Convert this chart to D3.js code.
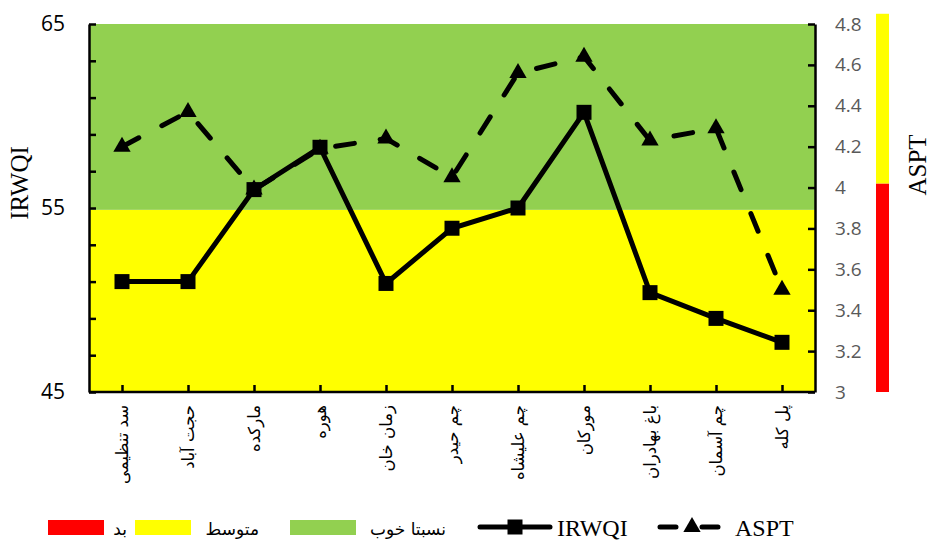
<!DOCTYPE html>
<html>
<head>
<meta charset="utf-8">
<script src="https://cdn.jsdelivr.net/npm/d3@7"></script>
<style>
  body { margin: 0; background: #fff; }
</style>
</head>
<body>
<div id="chart"></div>
<script>
var w = 934;
var h = 541;

// data
var stations = ["سد تنظیمی", "حجت آباد", "مارکده", "هوره", "زمان خان", "چم حیدر",
                "چم علیشاه", "مورکان", "باغ بهادران", "چم آسمان", "پل کله"];
var irwqi = [51.0, 51.0, 56.0, 58.3, 50.9, 53.9, 55.0, 60.2, 50.4, 49.0, 47.7];
var aspt = [4.20, 4.37, 3.99, 4.19, 4.24, 4.05, 4.56, 4.64, 4.23, 4.29, 3.50];
var leftTicks = [45, 47, 49, 51, 53, 55, 57, 59, 61, 63, 65];
var leftLabels = [45, 55, 65];
var rightTicks = [3, 3.2, 3.4, 3.6, 3.8, 4, 4.2, 4.4, 4.6, 4.8];
// background classes of IRWQI and ASPT
var irwqiBands = [{from: 45, to: 54.9, color: "#ffff00"}, {from: 54.9, to: 65, color: "#92d050"}];
var asptBands = [{from: 3, to: 4.02, color: "#ff0000"}, {from: 4.02, to: 4.85, color: "#ffff00"}];
var legendBoxes = [{label: "بد", color: "#ff0000"}, {label: "متوسط", color: "#ffff00"},
                   {label: "نسبتا خوب", color: "#92d050"}];

var pLeft = 89, pRight = 815, pTop = 24, pBottom = 392;

var svg = d3.select("#chart")
    .append("svg")
    .attr("width", w)
    .attr("height", h);

var x = d3.scalePoint().domain(stations).range([pLeft, pRight]).padding(0.5);
var yL = d3.scaleLinear().domain([45, 65]).range([pBottom, pTop]);
var yR = d3.scaleLinear().domain([3, 4.8]).range([pBottom, pTop]);

// coloured bands behind the lines
svg.append("g").selectAll("rect")
    .data(irwqiBands)
    .enter().append("rect")
    .attr("x", pLeft)
    .attr("width", pRight - pLeft)
    .attr("y", function(d) { return yL(d.to); })
    .attr("height", function(d) { return yL(d.from) - yL(d.to); })
    .attr("fill", function(d) { return d.color; });

// ASPT class bar at the right
svg.append("g").selectAll("rect")
    .data(asptBands)
    .enter().append("rect")
    .attr("x", 876)
    .attr("width", 13)
    .attr("y", function(d) { return yR(d.to); })
    .attr("height", function(d) { return yR(d.from) - yR(d.to); })
    .attr("fill", function(d) { return d.color; });

// axes
var gl = svg.append("g")
    .attr("transform", "translate(" + pLeft + ",0)")
    .call(d3.axisLeft(yL).tickValues(leftTicks).tickSizeInner(-7).tickSizeOuter(0).tickPadding(24)
        .tickFormat(function(d) { return leftLabels.indexOf(d) >= 0 ? d : ""; }));
gl.selectAll("text").style("font-family", "'Open Sans', sans-serif").style("font-size", "21px").attr("fill", "#000");

var gr = svg.append("g")
    .attr("transform", "translate(" + pRight + ",0)")
    .call(d3.axisRight(yR).tickValues(rightTicks).tickSizeInner(-7).tickSizeOuter(0).tickPadding(20)
        .tickFormat(function(d) { return d3.format("")(+d.toFixed(1)); }));
gr.selectAll("text").style("font-family", "'Open Sans', sans-serif").style("font-size", "19px").attr("fill", "#595959");

var gb = svg.append("g")
    .attr("transform", "translate(0," + pBottom + ")")
    .call(d3.axisBottom(x).tickSizeInner(-7).tickSizeOuter(0).tickFormat(""));
gb.select(".domain").attr("d", "M" + pLeft + ",0H" + pRight);

svg.selectAll(".domain, .tick line").attr("stroke", "#000").attr("stroke-width", 2.5);

// rotated station names
svg.append("g").selectAll("text")
    .data(stations)
    .enter().append("text")
    .attr("transform", function(d) { return "translate(" + x(d) + ",405) rotate(-90)"; })
    .attr("dy", "0.35em")
    .attr("text-anchor", "end")
    .style("font-family", "'DejaVu Sans', sans-serif")
    .style("font-size", "16.5px")
    .text(function(d) { return d; });

// axis titles
svg.append("text")
    .attr("transform", "translate(28,183) rotate(-90)")
    .attr("text-anchor", "middle")
    .style("font-family", "'Liberation Serif', serif")
    .style("font-size", "25px")
    .text("IRWQI");

svg.append("text")
    .attr("transform", "translate(926,165) rotate(-90)")
    .attr("text-anchor", "middle")
    .style("font-family", "'Liberation Serif', serif")
    .style("font-size", "25px")
    .text("ASPT");

// lines
var lineL = d3.line().x(function(d, i) { return x(stations[i]); }).y(function(d) { return yL(d); });
var lineR = d3.line().x(function(d, i) { return x(stations[i]); }).y(function(d) { return yR(d); });

svg.append("path")
    .attr("d", lineR(aspt))
    .attr("fill", "none")
    .attr("stroke", "#000")
    .attr("stroke-width", 5)
    .attr("stroke-linecap", "round")
    .attr("stroke-dasharray", "19,26");

svg.append("g").selectAll("path")
    .data(aspt)
    .enter().append("path")
    .attr("d", d3.symbol().type(d3.symbolTriangle).size(130))
    .attr("transform", function(d, i) { return "translate(" + x(stations[i]) + "," + yR(d) + ")"; })
    .attr("fill", "#000");

svg.append("path")
    .attr("d", lineL(irwqi))
    .attr("fill", "none")
    .attr("stroke", "#000")
    .attr("stroke-width", 5);

svg.append("g").selectAll("path")
    .data(irwqi)
    .enter().append("path")
    .attr("d", d3.symbol().type(d3.symbolSquare).size(225))
    .attr("transform", function(d, i) { return "translate(" + x(stations[i]) + "," + yL(d) + ")"; })
    .attr("fill", "#000");

// legend
var lg = svg.append("g").attr("transform", "translate(0,527)");
var boxX = [48, 135, 290];
var textX = [127, 259, 446];
legendBoxes.forEach(function(d, i) {
    lg.append("rect").attr("x", boxX[i]).attr("y", -7).attr("width", i == 2 ? 66 : 56).attr("height", 15).attr("fill", d.color);
    lg.append("text").attr("x", textX[i]).attr("y", 8).attr("text-anchor", "end")
        .style("font-family", "'DejaVu Sans', sans-serif").style("font-size", "17px").text(d.label);
});

lg.append("line").attr("x1", 480).attr("x2", 550).attr("y1", 0).attr("y2", 0)
    .attr("stroke", "#000").attr("stroke-width", 5).attr("stroke-linecap", "round");
lg.append("path").attr("d", d3.symbol().type(d3.symbolSquare).size(225)).attr("transform", "translate(515,0)");
lg.append("text").attr("x", 557).attr("y", 9)
    .style("font-family", "'Liberation Serif', serif").style("font-size", "24px").text("IRWQI");

lg.append("line").attr("x1", 660).attr("x2", 722).attr("y1", 0).attr("y2", 0)
    .attr("stroke", "#000").attr("stroke-width", 5).attr("stroke-linecap", "round").attr("stroke-dasharray", "16,26");
lg.append("path").attr("d", d3.symbol().type(d3.symbolTriangle).size(130)).attr("transform", "translate(692,0)");
lg.append("text").attr("x", 735).attr("y", 9)
    .style("font-family", "'Liberation Serif', serif").style("font-size", "24px").text("ASPT");
</script>
</body>
</html>
